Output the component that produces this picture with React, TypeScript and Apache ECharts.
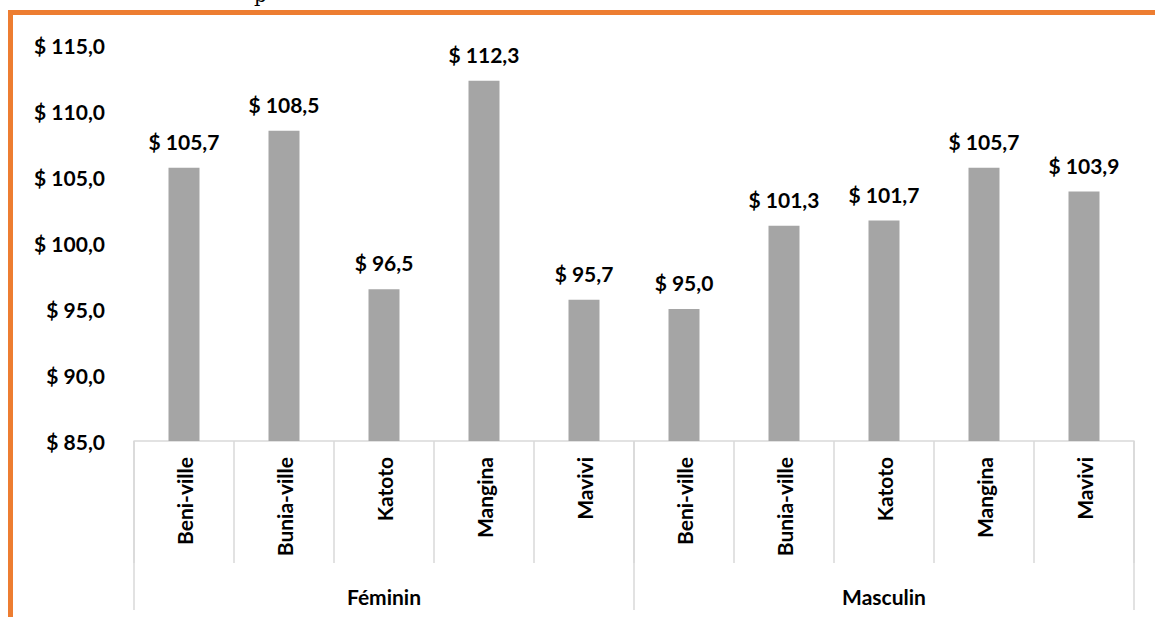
import React, { useEffect, useRef } from "react";
import * as echarts from "echarts";

const cities = ["Beni-ville", "Bunia-ville", "Katoto", "Mangina", "Mavivi", "Beni-ville", "Bunia-ville", "Katoto", "Mangina", "Mavivi"];
const groups = ["Féminin", "Masculin"];
const values = [105.7, 108.5, 96.5, 112.3, 95.7, 95.0, 101.3, 101.7, 105.7, 103.9];
const yMin = 85;
const yMax = 115;
const yStep = 5;

const fmt = (v: number) => "$ " + v.toFixed(1).replace(".", ",");
const FONT = "Lato, 'Open Sans', sans-serif";

export default function App() {
  const ref = useRef<HTMLDivElement>(null);
  useEffect(() => {
    if (!ref.current) return;
    const chart = echarts.init(ref.current, null, { renderer: "svg" });
    chart.setOption({
      animation: false,
      backgroundColor: "#ffffff",
      grid: { left: 134, right: 21, top: 45, bottom: 176 },
      xAxis: [
        {
          type: "category",
          data: cities,
          axisLine: { show: true, lineStyle: { color: "#d9d9d9", width: 1.5 } },
          axisTick: { show: true, length: 122, interval: 0, lineStyle: { color: "#d9d9d9", width: 1.5 } },
          axisLabel: {
            interval: 0,
            rotate: 90,
            margin: 16,
            fontFamily: FONT,
            fontWeight: "bold",
            fontSize: 21,
            color: "#000000",
          },
        },
        {
          type: "category",
          data: groups,
          position: "bottom",
          axisLine: { show: false },
          axisTick: { show: true, length: 169, interval: 0, lineStyle: { color: "#d9d9d9", width: 1.5 } },
          axisLabel: {
            interval: 0,
            margin: 145,
            fontFamily: FONT,
            fontWeight: "bold",
            fontSize: 21,
            color: "#000000",
          },
        },
      ],
      yAxis: {
        type: "value",
        min: yMin,
        max: yMax,
        interval: yStep,
        axisLine: { show: false },
        axisTick: { show: false },
        splitLine: { show: false },
        axisLabel: {
          margin: 29,
          formatter: (v: number) => fmt(v),
          fontFamily: FONT,
          fontWeight: "bold",
          fontSize: 21,
          color: "#000000",
        },
      },
      series: [
        {
          type: "bar",
          data: values,
          barWidth: 31,
          itemStyle: { color: "#a5a5a5" },
          label: {
            show: true,
            position: "top",
            distance: 16,
            formatter: (p: any) => fmt(p.value),
            fontFamily: FONT,
            fontWeight: "bold",
            fontSize: 21,
            color: "#000000",
          },
        },
      ],
      graphic: [
        {
          type: "text",
          x: 254,
          y: 5,
          style: { text: "p", font: "20px 'DejaVu Serif', serif", fill: "#000", verticalAlign: "bottom" },
        },
        {
          type: "line",
          shape: { x1: 8, y1: 12.5, x2: 1160, y2: 12.5 },
          style: { stroke: "#ed7d31", lineWidth: 5 },
        },
        {
          type: "line",
          shape: { x1: 10.5, y1: 10, x2: 10.5, y2: 620 },
          style: { stroke: "#ed7d31", lineWidth: 5 },
        },
      ],
    });
    return () => chart.dispose();
  }, []);
  return <div ref={ref} style={{ position: "fixed", left: 0, top: 0, width: 1155, height: 617 }} />;
}
